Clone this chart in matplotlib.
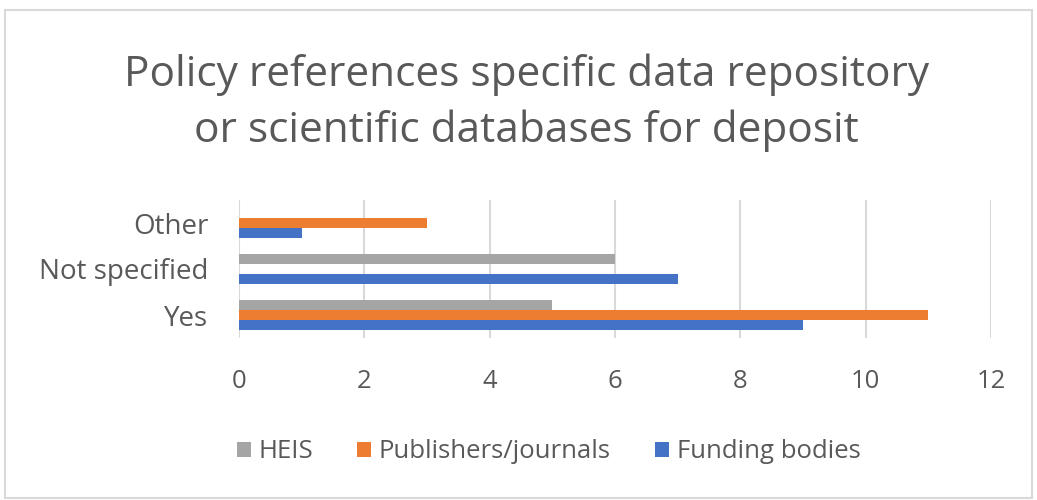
import matplotlib
matplotlib.use("Agg")
from matplotlib import pyplot as plt
from matplotlib.patches import Rectangle
import numpy as np

categories = ["Yes", "Not specified", "Other"]
series = ["Funding bodies", "Publishers/journals", "HEIS"]
funding = [9, 7, 1]
publishers = [11, 0, 3]
heis = [5, 6, 0]
colors = ["#4472C4", "#ED7D31", "#A5A5A5"]
xticks = [0, 2, 4, 6, 8, 10, 12]

plt.rcParams['font.family'] = ['Open Sans', 'DejaVu Sans']
txt = "#595959"

fig = plt.figure(figsize=(10.37, 5.0), dpi=100)
fig.patches.append(Rectangle((0.005, 0.005), 0.99, 0.975, transform=fig.transFigure,
                             fill=False, edgecolor="#D9D9D9", linewidth=1.5))
ax = fig.add_axes([0.2305, 0.324, 0.725, 0.276])

y = np.arange(len(categories))
h = 0.22
for i, (vals, name) in enumerate(zip([funding, publishers, heis], series)):
    ax.barh(y + (i - 1) * h, vals, height=h, color=colors[i], label=name, zorder=3)

ax.set_xlim(0, 12)
ax.set_ylim(-0.5, 2.5)
ax.set_xticks(xticks)
ax.set_yticks(y)
ax.set_yticklabels(categories)
ax.grid(axis="x", color="#D9D9D9", linewidth=1.5, zorder=0)
for s in ax.spines.values():
    s.set_visible(False)
ax.tick_params(length=0, labelsize=18.5, labelcolor=txt)
ax.tick_params(axis="y", labelsize=20, pad=22)
ax.tick_params(axis="x", pad=22)

fig.text(0.508, 0.794, "Policy references specific data repository\nor scientific databases for deposit",
         ha="center", va="center", fontsize=30.5, color=txt, linespacing=1.42)

hdl, lab = ax.get_legend_handles_labels()
fig.legend(hdl[::-1], lab[::-1], loc="center", bbox_to_anchor=(0.529, 0.096), ncol=3,
           frameon=False, fontsize=18.5, labelcolor=txt, handlelength=0.55, handleheight=0.55,
           handletextpad=0.3, columnspacing=1.7)

fig.savefig("out.png", dpi=100)
